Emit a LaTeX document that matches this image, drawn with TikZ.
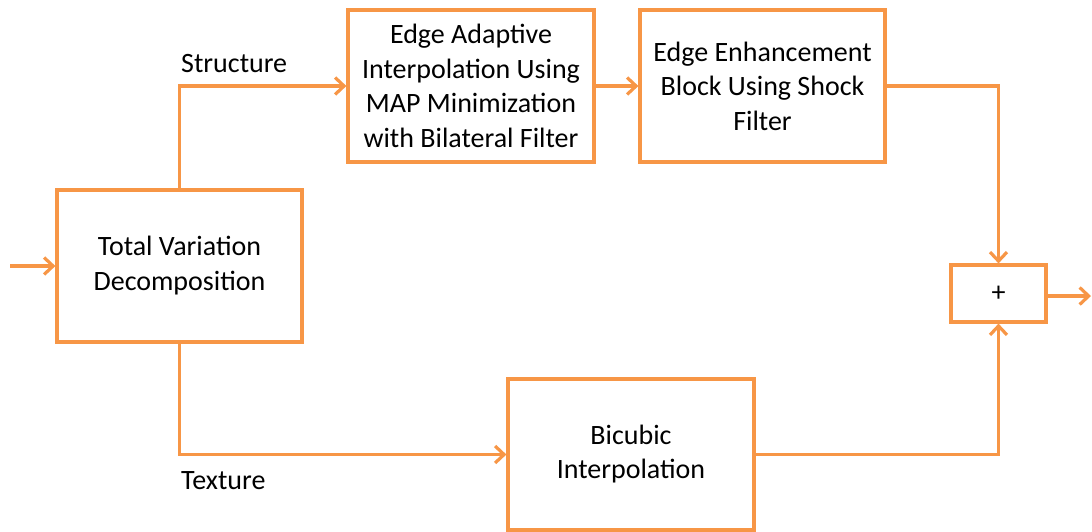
\documentclass[tikz,border=0pt]{standalone}
\usepackage{fontspec}
\setmainfont{Carlito}
\usetikzlibrary{arrows.meta}
\definecolor{org}{HTML}{F79646}
\newcommand{\lowtxt}[1]{\raisebox{-3pt}{\begin{tabular}{@{}c@{}}#1\end{tabular}}}
\begin{document}
\begin{tikzpicture}[x=1pt,y=-1pt,
  blk/.style={draw=org,line width=3.2pt,fill=white,inner sep=0pt,align=center,font=\fontsize{28}{34.5}\selectfont},
  conn/.style={draw=org,line width=3.2pt,-{Straight Barb[length=9pt,width=17pt,line width=3.2pt]}},
  lbl/.style={inner sep=0pt,font=\fontsize{28}{30}\selectfont,anchor=west}]
\useasboundingbox (0,0) rectangle (1092,531);
\node[blk,minimum width=245pt,minimum height=152pt] (tvd) at (179.5,266) {\lowtxt{Total Variation\\Decomposition}};
\node[blk,minimum width=246pt,minimum height=152pt] (ea) at (471,86) {Edge Adaptive\\Interpolation Using\\MAP Minimization\\with Bilateral Filter};
\node[blk,minimum width=245pt,minimum height=152pt] (ee) at (762.5,86) {Edge Enhancement\\Block Using Shock\\Filter};
\node[blk,minimum width=246pt,minimum height=151pt] (bc) at (631,454.5) {\lowtxt{Bicubic\\Interpolation}};
\node[blk,minimum width=95pt,minimum height=57pt] (sum) at (998.5,293.5) {+};
\coordinate (in) at (10,266);
\coordinate (out) at (1091,296);
\draw[conn] (in) -- (tvd.west);
\draw[conn] (tvd.north) |- (ea.west);
\draw[conn] (ea.east) -- (ee.west);
\draw[conn] (ee.east) -| (sum.north);
\draw[conn] (tvd.south) |- (bc.west);
\draw[conn] (bc.east) -| (sum.south);
\draw[conn] (sum.east |- out) -- (out);
\node[lbl] (s) at (181,64) {Structure};
\node[lbl] (t) at (181,481) {Texture};
\end{tikzpicture}
\end{document}
